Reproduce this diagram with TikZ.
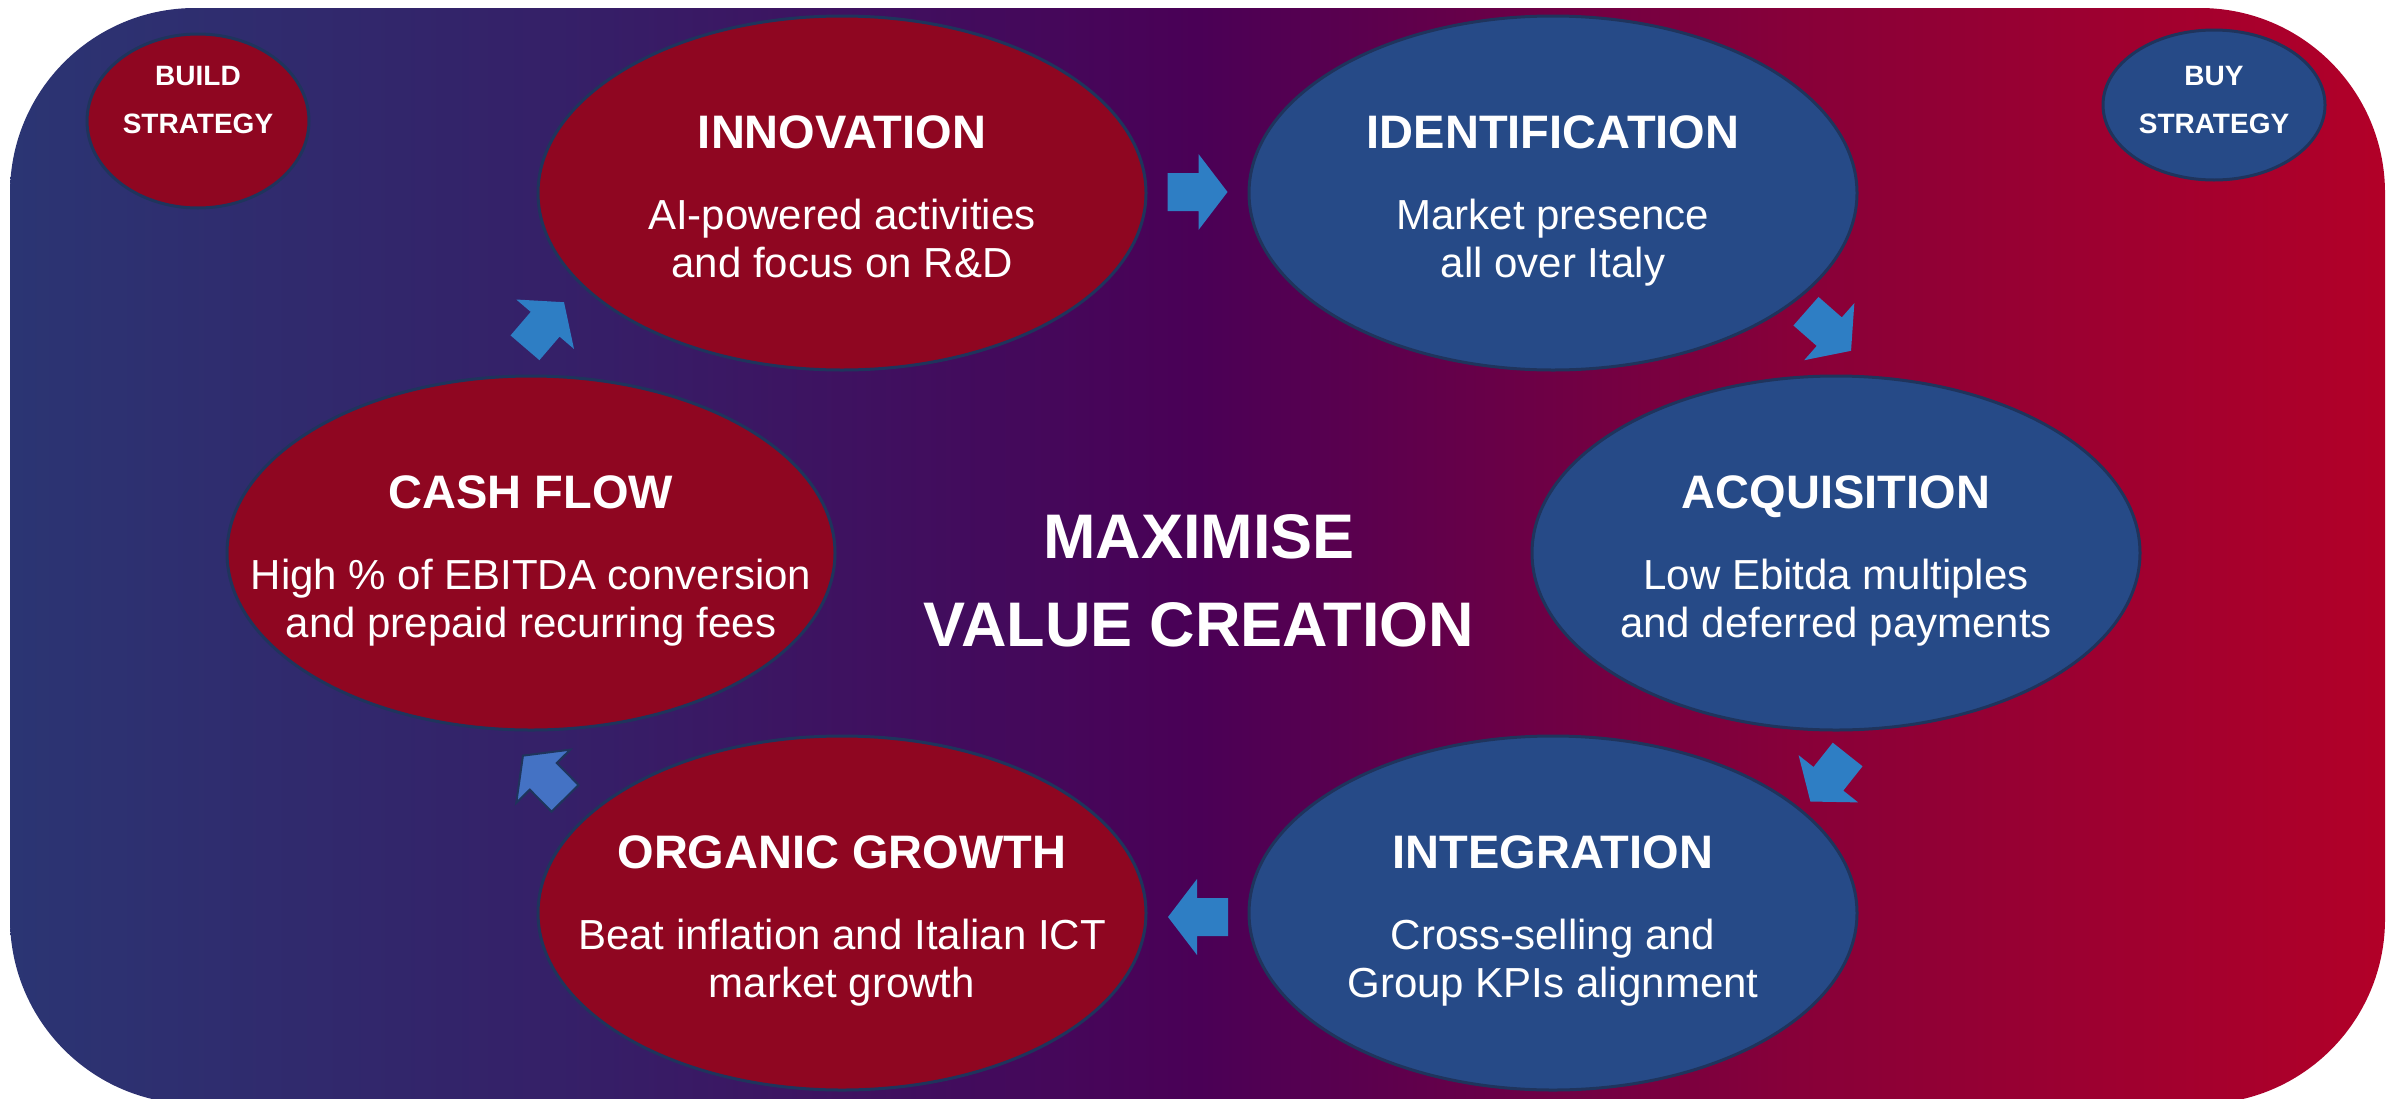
\documentclass[tikz,border=0pt]{standalone}
\usepackage{fontspec}
\setmainfont{Liberation Sans}
\usetikzlibrary{shapes.geometric}

\definecolor{bgA}{RGB}{43,53,115}
\definecolor{bgB}{RGB}{54,30,103}
\definecolor{bgC}{RGB}{74,0,86}
\definecolor{bgD}{RGB}{135,0,57}
\definecolor{bgE}{RGB}{178,0,40}
\definecolor{bubred}{RGB}{143,6,33}
\definecolor{bubblue}{RGB}{38,74,135}
\definecolor{rimnavy}{RGB}{31,52,92}
\definecolor{arrowblue}{RGB}{46,126,196}
\definecolor{arrowsoft}{RGB}{68,114,196}

% left-to-right colour band of the panel (inner 25bp..75bp is stretched to the path)
\pgfdeclarehorizontalshading{bandshade}{100bp}{%
  color(0bp)=(bgA); color(25bp)=(bgA); color(37.5bp)=(bgB);
  color(50bp)=(bgC); color(62.5bp)=(bgD); color(75bp)=(bgE); color(100bp)=(bgE)}

\tikzset{
  bubble/.style={ellipse, draw=rimnavy, line width=3pt, inner sep=0pt,
                 minimum width=608pt, minimum height=354pt},
  redbubble/.style={bubble, fill=bubred},
  bluebubble/.style={bubble, fill=bubblue},
  badge/.style={ellipse, draw=rimnavy, line width=3pt, inner sep=0pt,
                minimum width=222pt},
  headtext/.style={text=white, inner sep=0pt, anchor=base,
                   font=\fontsize{47}{56}\selectfont\bfseries},
  bodytext/.style={text=white, inner sep=0pt, anchor=base,
                   font=\fontsize{42}{48}\selectfont},
  badgetext/.style={text=white, inner sep=0pt, anchor=base,
                    font=\fontsize{28}{34}\selectfont\bfseries},
  coretext/.style={text=white, inner sep=0pt, anchor=base,
                   font=\fontsize{63}{75}\selectfont\bfseries},
  pics/blockarrow/.style={code={
    \path[pic actions] (-30,-19) -- (1,-19) -- (1,-38) -- (30,0)
      -- (1,38) -- (1,19) -- (-30,19) -- cycle;}},
}

\begin{document}
\begin{tikzpicture}[x=1pt, y=-1pt]
\useasboundingbox (0,0) rectangle (2397,1098);

% panel
\begin{scope}
\clip (0,0) rectangle (2397,1098);
\path[shading=bandshade, rounded corners=185pt] (10,8) rectangle (2385,1104);
\end{scope}

% strategy badges
\node[badge, fill=bubred, minimum height=174pt] (build) at (198,121) {};
\node[badgetext] at ([yshift=36pt]build.center) {BUILD};
\node[badgetext] at ([yshift=-12pt]build.center) {STRATEGY};

\node[badge, fill=bubblue, minimum height=150pt] (buy) at (2214,105) {};
\node[badgetext] at ([yshift=20pt]buy.center) {BUY};
\node[badgetext] at ([yshift=-28pt]buy.center) {STRATEGY};

% cycle stages
\node[redbubble]  (innov) at (842,193)  {};
\node[bluebubble] (ident) at (1553,193) {};
\node[bluebubble] (acq)   at (1836,553) {};
\node[bluebubble] (integ) at (1553,913) {};
\node[redbubble]  (organ) at (842,913)  {};
\node[redbubble]  (cash)  at (531,553)  {};

\foreach \n/\t/\a/\b in {
  innov/INNOVATION/AI-powered activities/and focus on R\&D,
  ident/IDENTIFICATION/Market presence/all over Italy,
  acq/ACQUISITION/Low Ebitda multiples/and deferred payments,
  integ/INTEGRATION/Cross-selling and/Group KPIs alignment,
  organ/ORGANIC GROWTH/Beat inflation and Italian ICT/market growth,
  cash/CASH FLOW/High \% of EBITDA conversion/and prepaid recurring fees}{
  \node[headtext] (\n-head)  at ([yshift=45pt]\n.center)  {\t};
  \node[bodytext] (\n-lineA) at ([yshift=-36pt]\n.center) {\a};
  \node[bodytext] (\n-lineB) at ([yshift=-84pt]\n.center) {\b};
}

% centre message
\node[coretext] (core1) at (1199,558) {MAXIMISE};
\node[coretext] (core2) at (1199,646) {VALUE CREATION};

% block arrows between the stages
\pic[fill=arrowblue]               (ar1) at (1197.5,192) {blockarrow};
\pic[fill=arrowblue, rotate=-41.3] (ar2) at (1828.5,331) {blockarrow};
\pic[fill=arrowblue, rotate=-128.4](ar3) at (1829,778)   {blockarrow};
\pic[fill=arrowblue, rotate=180]   (ar4) at (1198,917)   {blockarrow};
\pic[fill=arrowsoft, draw=rimnavy, line width=2pt, rotate=134.6] (ar5) at (544,777) {blockarrow};
\pic[fill=arrowblue, rotate=49.4]  (ar6) at (544.5,325)  {blockarrow};
\end{tikzpicture}
\end{document}
